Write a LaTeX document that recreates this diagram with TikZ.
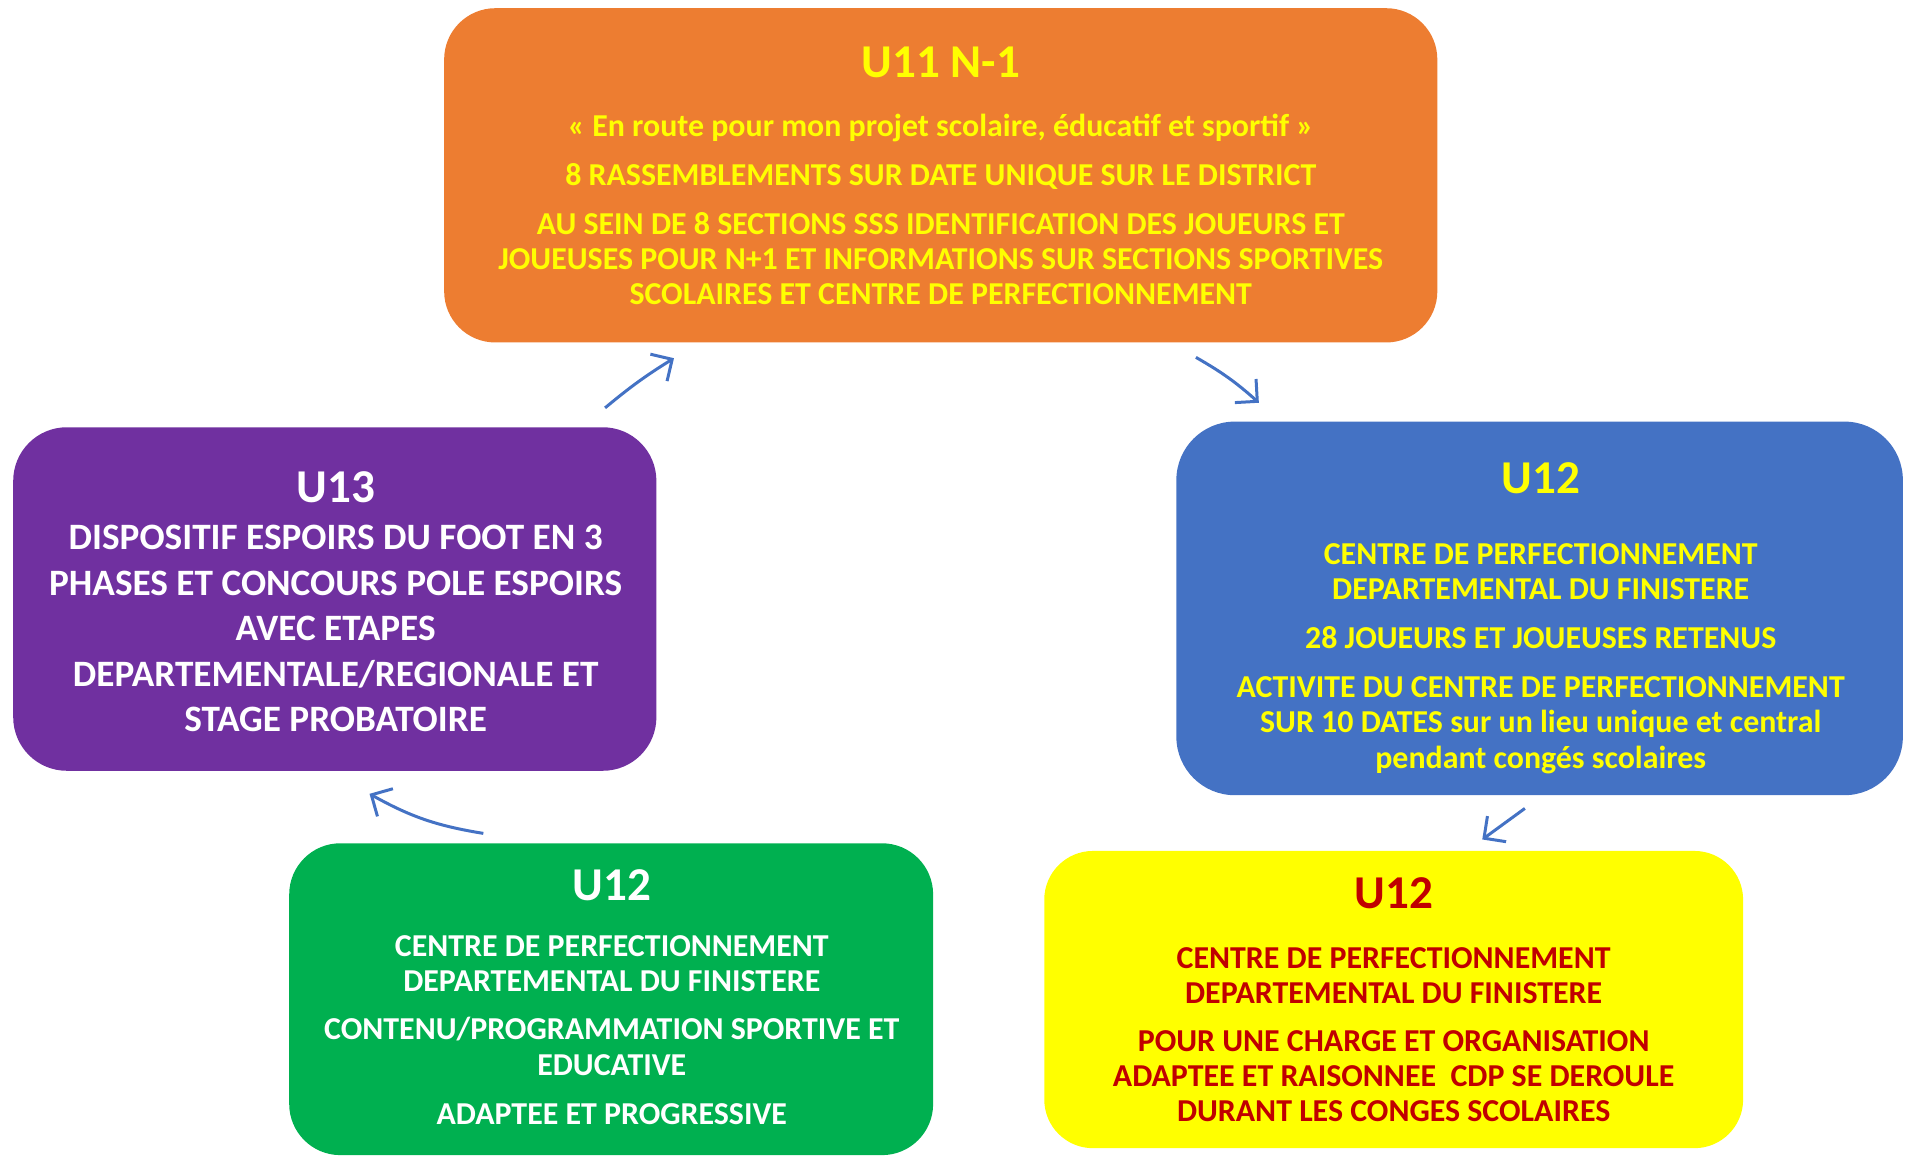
\documentclass[tikz,border=0pt]{standalone}
\usepackage{fontspec}
\setmainfont{Carlito}
\usetikzlibrary{arrows.meta}
\definecolor{cOrange}{HTML}{ED7D31}
\definecolor{cPurple}{HTML}{7030A0}
\definecolor{cBlue}{HTML}{4472C4}
\definecolor{cGreen}{HTML}{00B050}
\definecolor{cYellow}{HTML}{FFFF00}
\definecolor{cRed}{HTML}{C00000}
\definecolor{cArrow}{HTML}{4472C4}
\begin{document}
\begin{tikzpicture}[x=0.01cm,y=-0.01cm,
  box/.style={draw=none, inner sep=0pt},
  ttl/.style={anchor=base, inner sep=0pt, font=\fontsize{11pt}{13pt}\selectfont\bfseries},
  bdy/.style={anchor=base, inner sep=0pt, font=\fontsize{7.45pt}{9pt}\selectfont\bfseries},
  pbdy/.style={anchor=base, inner sep=0pt, font=\fontsize{8.7pt}{10.5pt}\selectfont\bfseries},
  conn/.style={draw=cArrow, line width=0.7pt, -{Straight Barb[length=1.3mm,width=2.6mm,line width=0.7pt]}}]
\useasboundingbox (0,0) rectangle (1568,953.6);

% boxes
\node[box, fill=cOrange, minimum width=8.153cm, minimum height=2.744cm, rounded corners=0.42cm] (orange) at (772.7,144) {};
\node[box, fill=cPurple, minimum width=5.28cm, minimum height=2.82cm, rounded corners=0.44cm] (purple) at (275,492) {};
\node[box, fill=cBlue, minimum width=5.964cm, minimum height=3.067cm, rounded corners=0.48cm] (blue) at (1264.6,499.7) {};
\node[box, fill=cGreen, minimum width=5.286cm, minimum height=2.56cm, rounded corners=0.42cm] (green) at (502,820.7) {};
\node[box, fill=cYellow, minimum width=5.737cm, minimum height=2.44cm, rounded corners=0.40cm] (yellow) at (1144.75,821) {};

% orange texts
\begin{scope}[text=cYellow]
\node[ttl] (o0) at (772.7,64) {U11 N-1};
\node[bdy] (o1) at (772.7,112) {« En route pour mon projet scolaire, éducatif et sportif »};
\node[bdy] (o2) at (772.7,152) {8 RASSEMBLEMENTS SUR DATE UNIQUE SUR LE DISTRICT};
\node[bdy] (o3) at (772.7,192.5) {AU SEIN DE 8 SECTIONS SSS IDENTIFICATION DES JOUEURS ET};
\node[bdy] (o4) at (772.7,221) {JOUEUSES POUR N+1 ET INFORMATIONS SUR SECTIONS SPORTIVES};
\node[bdy] (o5) at (772.7,250) {SCOLAIRES ET CENTRE DE PERFECTIONNEMENT};
\end{scope}

% purple texts
\begin{scope}[text=white]
\node[ttl] (p0) at (275.7,412.5) {U13};
\node[pbdy] (p1) at (275.7,451.4) {DISPOSITIF ESPOIRS DU FOOT EN 3};
\node[pbdy] (p2) at (275.7,488.8) {PHASES ET CONCOURS POLE ESPOIRS};
\node[pbdy] (p3) at (275.7,526.4) {AVEC ETAPES};
\node[pbdy] (p4) at (275.7,563.6) {DEPARTEMENTALE/REGIONALE ET};
\node[pbdy] (p5) at (275.7,601) {STAGE PROBATOIRE};
\end{scope}

% blue texts
\begin{scope}[text=cYellow]
\node[ttl] (b0) at (1265.5,405) {U12};
\node[bdy] (b1) at (1265.5,464) {CENTRE DE PERFECTIONNEMENT};
\node[bdy] (b2) at (1265.5,492.5) {DEPARTEMENTAL DU FINISTERE};
\node[bdy] (b3) at (1265.5,532.5) {28 JOUEURS ET JOUEUSES RETENUS};
\node[bdy] (b4) at (1265.5,572.5) {ACTIVITE DU CENTRE DE PERFECTIONNEMENT};
\node[bdy] (b5) at (1265.5,602) {SUR 10 DATES sur un lieu unique et central};
\node[bdy] (b6) at (1265.5,631) {pendant congés scolaires};
\end{scope}

% green texts
\begin{scope}[text=white]
\node[ttl] (g0) at (502.5,739.5) {U12};
\node[bdy] (g1) at (502.5,786) {CENTRE DE PERFECTIONNEMENT};
\node[bdy] (g2) at (502.5,814.5) {DEPARTEMENTAL DU FINISTERE};
\node[bdy] (g3) at (502.5,854.2) {CONTENU/PROGRAMMATION SPORTIVE ET};
\node[bdy] (g4) at (502.5,883) {EDUCATIVE};
\node[bdy] (g5) at (502.5,924) {ADAPTEE ET PROGRESSIVE};
\end{scope}

% yellow texts
\begin{scope}[text=cRed]
\node[ttl] (y0) at (1144.7,746) {U12};
\node[bdy] (y1) at (1144.7,795.3) {CENTRE DE PERFECTIONNEMENT};
\node[bdy] (y2) at (1144.7,824) {DEPARTEMENTAL DU FINISTERE};
\node[bdy] (y3) at (1144.7,863.8) {POUR UNE CHARGE ET ORGANISATION};
\node[bdy] (y4) at (1144.7,892.5) {ADAPTEE ET RAISONNEE\ \ CDP SE DEROULE};
\node[bdy] (y5) at (1144.7,921.3) {DURANT LES CONGES SCOLAIRES};
\end{scope}

% connectors
\coordinate (a1s) at (497,335);
\coordinate (a1e) at (553.6,294.2);
\coordinate (a2s) at (982.3,293.5);
\coordinate (a2e) at (1034,330.8);
\coordinate (a3s) at (1252.5,664);
\coordinate (a3e) at (1217.5,689.5);
\coordinate (a4s) at (397,684.5);
\coordinate (a4e) at (303.5,652);
\draw[conn] (a1s) to[bend left=4] (a1e);
\draw[conn] (a2s) to[bend left=6] (a2e);
\draw[conn] (a3s) -- (a3e);
\draw[conn] (a4s) to[bend left=10] (a4e);
\end{tikzpicture}
\end{document}
